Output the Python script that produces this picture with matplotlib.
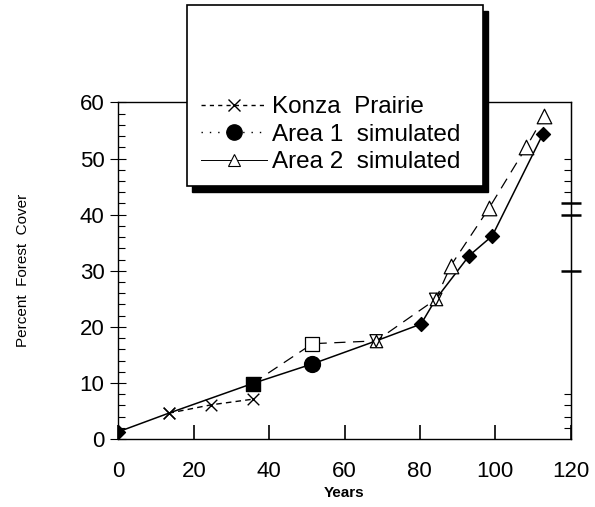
"""Percent forest cover over time: Konza Prairie vs simulated areas"""
import matplotlib
matplotlib.use('Agg')
import matplotlib.pyplot as plt
from matplotlib.patches import Rectangle
from matplotlib.lines import Line2D

plt.rcParams['font.family'] = ['Liberation Sans', 'DejaVu Sans']

# Data ---
konza_years = [13.3, 24.6, 35.6]
konza_cover = [4.6, 6.1, 7.1]

area1_years = [0, 13.3, 35.6, 51.5, 68.4, 80.3, 84.2, 93.1, 99.2, 112.6]
area1_cover = [1.3, 4.6, 9.9, 13.4, 17.5, 20.5, 24.9, 32.7, 36.2, 54.3]

area2_years = [35.6, 51.5, 68.4, 84.2, 88.2, 98.4, 108.2, 113.0]
area2_cover = [9.9, 17.0, 17.5, 24.9, 30.9, 41.2, 52.0, 57.6]

x_ticks = [0, 20, 40, 60, 80, 100, 120]
y_ticks = [0, 10, 20, 30, 40, 50, 60]
legend_labels = ['Konza  Prairie', 'Area 1  simulated', 'Area 2  simulated']

# marker per point on the simulated curves (scan uses mixed symbols)
area1_markers = ['D', 'x', 's', 'o', '^', 'D', 'h', 'D', 'D', 'D']
area2_markers = [None, 's', None, None, '^', '^', '^', '^']

fig = plt.figure(figsize=(5.95, 5.07), dpi=100)
ax = fig.add_axes([0.199, 0.134, 0.760, 0.664])

# Lines ---
ax.plot(konza_years, konza_cover, color='black', lw=1.0, ls=(0, (4, 3)), zorder=2)
ax.plot(area1_years, area1_cover, color='black', lw=1.1, ls='-', zorder=2)
ax.plot(area2_years, area2_cover, color='black', lw=0.9, ls=(0, (9, 6)), zorder=2)

# Markers ---
ax.scatter(konza_years, konza_cover, marker='x', s=70, color='black', lw=1.0, zorder=3)
for x, y, m in zip(area1_years, area1_cover, area1_markers):
    if m in ('D', 's', 'o'):
        size = {'D': 50, 's': 110, 'o': 130}[m]
        ax.scatter([x], [y], marker=m, s=size, color='black', zorder=4)
    elif m == 'x':
        ax.scatter([x], [y], marker='x', s=70, color='black', lw=1.0, zorder=4)
    else:
        # open star-like symbols
        ax.scatter([x], [y], marker='^', s=80, facecolor='white', edgecolor='black', lw=0.9, zorder=4)
        ax.scatter([x], [y], marker='v', s=80, facecolor='none', edgecolor='black', lw=0.9, zorder=4)
for x, y, m in zip(area2_years, area2_cover, area2_markers):
    if m is None:
        continue
    ax.scatter([x], [y], marker=m, s=110, facecolor='white', edgecolor='black', lw=0.9, zorder=3)

# Axes ---
ax.set_xlim(0, 120)
ax.set_ylim(0, 60)
ax.set_xticks(x_ticks)
ax.set_yticks(y_ticks)
ax.set_yticks(range(0, 61, 2), minor=True)
ax.tick_params(axis='x', direction='in', length=10, width=1.2, labelsize=16, pad=16)
ax.tick_params(axis='y', which='major', direction='inout', length=12, width=0.8, labelsize=16, pad=4)
ax.tick_params(axis='y', which='minor', direction='in', length=5, width=0.8)
for side in ['left', 'bottom', 'top', 'right']:
    ax.spines[side].set_linewidth(1.0)

# scattered ticks on the right frame
sec = ax.secondary_yaxis('right')
sec.set_yticks([30, 40, 42])
sec.set_yticklabels([])
sec.set_yticks([2, 4, 6, 8, 44, 46, 48, 50], minor=True)
sec.tick_params(which='major', direction='inout', length=14, width=1.8)
sec.tick_params(which='minor', direction='in', length=5, width=0.8)

ax.set_xlabel('Years', fontsize=11, fontweight='bold', labelpad=3)
ax.set_ylabel('Percent  Forest  Cover', fontsize=11)
ax.yaxis.set_label_coords(-0.195, 0.5)

# Legend box with drop shadow ---
bx0, by0, bw, bh = 187 / 595, 1 - 186 / 507, 296 / 595, 181 / 507
fig.patches.append(Rectangle((bx0 + 0.008, by0 - 0.012), bw, bh, transform=fig.transFigure,
                             facecolor='black', edgecolor='black', zorder=5))
fig.patches.append(Rectangle((bx0, by0), bw, bh, transform=fig.transFigure,
                             facecolor='white', edgecolor='black', lw=1.2, zorder=6))

handles = [
    Line2D([], [], color='black', lw=1.0, ls=(0, (3, 3)), marker='x', ms=9, mew=1.0),
    Line2D([], [], color='black', lw=1.0, ls=(0, (1, 5)), marker='o', ms=11),
    Line2D([], [], color='black', lw=0.7, ls='-', marker='^', ms=8, mfc='white', mew=0.8),
]
leg = fig.legend(handles, legend_labels, loc='upper left', bbox_to_anchor=(0.322, 0.829),
                 frameon=False, fontsize=17.5, handlelength=2.7, handletextpad=0.2,
                 labelspacing=0.22, borderaxespad=0)
leg.set_zorder(7)

fig.savefig('out.png', dpi=100)
